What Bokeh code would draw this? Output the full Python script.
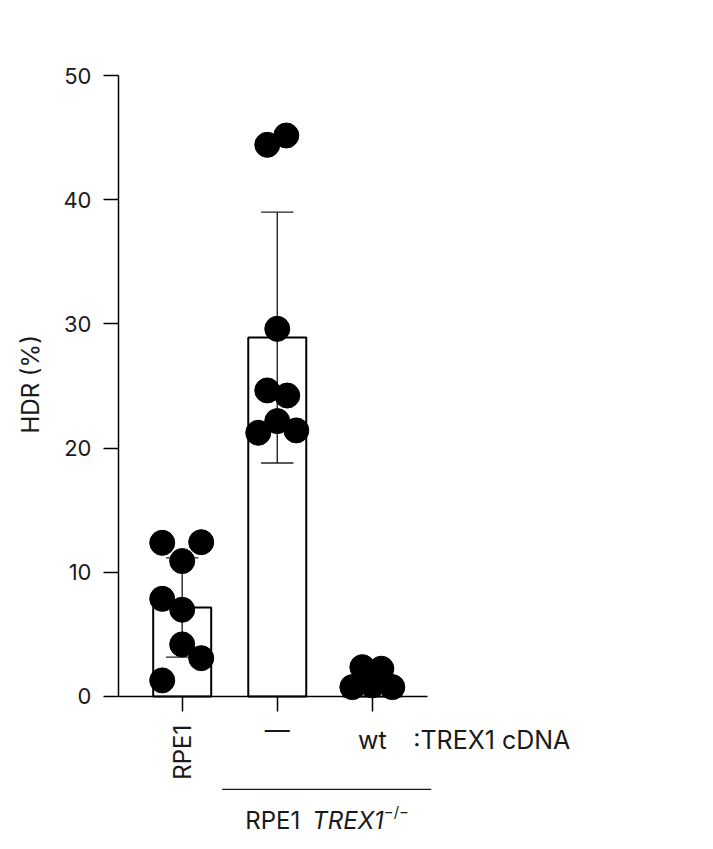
import numpy as np
from bokeh.plotting import figure
from bokeh.models import Range1d, FixedTicker, Title
from bokeh.core.properties import value
from bokeh.embed import file_html
from bokeh.resources import INLINE

FONT = "Inter"
TXT = "#1a1a1a"

# ---- data ----
group_pos = [0, 1, 2]
group_labels = ["RPE1", "—", "wt"]
means = [7.16, 28.9, 1.4]
sds = [4.0, 10.1, 0.75]

g1_vals = [12.37, 12.42, 10.9, 7.86, 6.98, 4.19, 3.08, 1.29]
g1_jit = [-0.21, 0.2, 0.0, -0.21, 0.0, 0.0, 0.2, -0.21]
g2_vals = [44.42, 45.17, 29.6, 24.64, 24.23, 22.17, 21.23, 21.42]
g2_jit = [-0.105, 0.095, 0.0, -0.105, 0.105, 0.0, -0.2, 0.2]
g3_vals = [2.36, 2.23, 0.75, 0.89, 0.75]
g3_jit = [-0.105, 0.095, -0.21, 0.0, 0.21]

y_ticks = [0, 10, 20, 30, 40, 50]

p = figure(frame_width=482, frame_height=760,
           x_range=Range1d(-0.67, 4.4), y_range=Range1d(-11.2, 50),
           output_backend="svg", toolbar_location=None,
           min_border_left=118, min_border_right=0,
           min_border_top=75, min_border_bottom=0)
p.outline_line_color = None
p.grid.visible = False
p.background_fill_color = "white"

# bars
p.vbar(x=group_pos, top=means, bottom=0, width=0.61,
       fill_color="white", line_color="black", line_width=2)

# error bars
lo = [m - s for m, s in zip(means, sds)]
hi = [m + s for m, s in zip(means, sds)]
p.segment(x0=group_pos, y0=lo, x1=group_pos, y1=hi, line_color="#222222", line_width=1.4)
cap = 0.17
p.segment(x0=[x - cap for x in group_pos], y0=lo, x1=[x + cap for x in group_pos], y1=lo,
          line_color="#222222", line_width=1.4)
p.segment(x0=[x - cap for x in group_pos], y0=hi, x1=[x + cap for x in group_pos], y1=hi,
          line_color="#222222", line_width=1.4)

# points
for gx, vals, jit in [(0, g1_vals, g1_jit), (1, g2_vals, g2_jit), (2, g3_vals, g3_jit)]:
    p.scatter(x=[gx + j for j in jit], y=vals, size=25, marker="circle",
              fill_color="black", line_color="black")

# y axis
p.yaxis.bounds = (0, 50)
p.yaxis.ticker = FixedTicker(ticks=y_ticks)
p.yaxis.minor_tick_line_color = None
p.yaxis.major_tick_in = 0
p.yaxis.major_tick_out = 15
p.yaxis.major_tick_line_width = 1.5
p.yaxis.axis_line_width = 1.5
p.yaxis.major_label_standoff = 12
p.yaxis.major_label_text_font = FONT
p.yaxis.major_label_text_font_size = "22px"
p.yaxis.major_label_text_color = TXT

ylab = Title(text="HDR (%)", align="left", offset=402, vertical_align="top",
             text_font=FONT, text_font_size="24px", text_font_style="normal",
             text_color=TXT)
if "standoff" in Title.properties():
    ylab.standoff = 28
p.add_layout(ylab, "left")

# x axis at y = 0
p.xaxis.fixed_location = 0
p.xaxis.bounds = (-0.67, 2.58)
p.xaxis.ticker = FixedTicker(ticks=group_pos)
p.xaxis.minor_tick_line_color = None
p.xaxis.major_tick_in = 0
p.xaxis.major_tick_out = 15
p.xaxis.major_tick_line_width = 1.5
p.xaxis.axis_line_width = 1.5
p.xaxis.major_label_overrides = {0: "", 1: "", 2: ""}
p.xaxis.major_label_standoff = 0

TF = value(FONT)
FS = "24px"
# category labels
p.text(x=[group_pos[0]], y=[-4.5], text=[group_labels[0]], angle=np.pi / 2,
       text_align="center", text_baseline="middle", text_font=TF,
       text_font_size=FS, text_color=TXT)
p.text(x=group_pos[1:], y=[-2.7, -3.54], text=group_labels[1:],
       text_align="center", text_baseline="middle", text_font=TF,
       text_font_size="25px", text_color=TXT)
p.text(x=[2.43], y=[-3.54], text=[":TREX1 cDNA"],
       text_align="left", text_baseline="middle", text_font=TF,
       text_font_size="25px", text_color=TXT)

# bracket for TREX1-/- group
p.segment(x0=[0.42], y0=[-7.49], x1=[2.62], y1=[-7.49], line_color=TXT, line_width=1.3)

p.text(x=[0.663], y=[-9.98], text=["RPE1"], text_align="left", text_baseline="middle",
       text_font=TF, text_font_size=FS, text_color=TXT)
p.text(x=[1.368], y=[-9.98], text=["TREX1"], text_align="left", text_baseline="middle",
       text_font=TF, text_font_size=FS, text_font_style="italic", text_color=TXT)
p.text(x=[2.12], y=[-9.3], text=["−/−"], text_align="left", text_baseline="middle",
       text_font=TF, text_font_size="15px", text_color=TXT)

open("out.html", "w").write(file_html(p, INLINE))
